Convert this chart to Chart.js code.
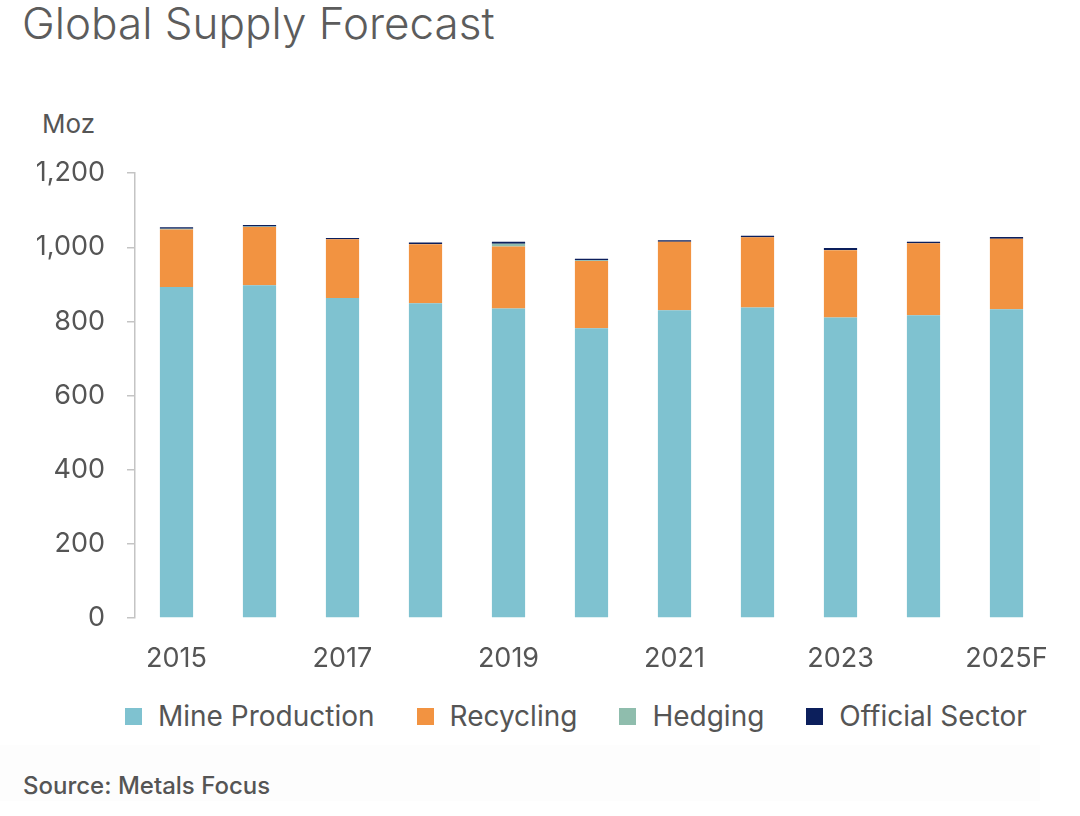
<!DOCTYPE html>
<html>
<head>
<meta charset="utf-8">
<script src="https://cdn.jsdelivr.net/npm/chart.js@4"></script>
<style>
  html, body { margin: 0; padding: 0; background: #fff; }
  body { width: 1080px; height: 816px; position: relative; overflow: hidden; font-family: Inter, "Liberation Sans", sans-serif; color: #555; }
  #title { position: absolute; left: 22px; top: 1px; font-size: 44px; line-height: 1; font-weight: 300; color: #5c5c5c; }
  #unit { position: absolute; left: 42px; top: 111px; font-size: 26px; line-height: 1; color: #555; }
  #wrap { position: absolute; left: 0; top: 135px; width: 1080px; height: 543px; }
  #legend { position: absolute; left: 125px; top: 702px; display: flex; font-size: 28px; line-height: 1; color: #555; }
  #legend .item { display: flex; align-items: center; margin-right: 42px; }
  #legend .box { width: 17px; height: 17px; margin-right: 16px; }
  #srcband { position: absolute; left: 0; top: 745px; width: 1040px; height: 56px; background: #fdfdfd; }
  #source { position: absolute; left: 23px; top: 774px; font-size: 24px; line-height: 1; font-weight: 500; color: #555; }
</style>
</head>
<body>
<div id="title">Global Supply Forecast</div>
<div id="unit">Moz</div>
<div id="wrap"><canvas id="supplyChart"></canvas></div>
<div id="legend"></div>
<div id="srcband"></div>
<div id="source">Source: Metals Focus</div>
<script>
// data (Moz)
const years = ['2015', '2016', '2017', '2018', '2019', '2020', '2021', '2022', '2023', '2024', '2025F'];
const mineProduction = [893, 898, 863, 849, 835, 782, 830, 838, 811, 817, 833];
const recycling = [155, 157, 159, 159, 167, 181, 185, 189, 181, 194, 190];
const hedging = [2, 1, 0, 1, 8, 2, 0, 0, 1, 0, 0];
const officialSector = [4, 4, 3, 4, 5, 4, 4, 4, 5, 4, 5];
const yTicks = [0, 200, 400, 600, 800, 1000, 1200];

const seriesNames = ['Mine Production', 'Recycling', 'Hedging', 'Official Sector'];
const seriesColors = ['#7fc2d0', '#f29341', '#8fbdad', '#0c1f5c'];
const seriesData = [mineProduction, recycling, hedging, officialSector];

const fontFamily = 'Inter, "Liberation Sans", sans-serif';

const ctx = document.getElementById('supplyChart').getContext('2d');
const chart = new Chart(ctx, {
    type: 'bar',
    data: {
        labels: years,
        datasets: seriesNames.map((name, i) => ({
            label: name,
            data: seriesData[i],
            backgroundColor: seriesColors[i],
            borderWidth: 0,
            categoryPercentage: 0.8,
            barPercentage: 0.5
        }))
    },
    options: {
        responsive: true,
        maintainAspectRatio: false,
        animation: false,
        layout: { padding: { top: 20, right: 32, left: 0, bottom: 0 } },
        plugins: {
            legend: { display: false },
            tooltip: { enabled: false }
        },
        scales: {
            x: {
                stacked: true,
                grid: { display: false },
                border: { display: false },
                ticks: {
                    autoSkip: false,
                    maxRotation: 0,
                    padding: 17,
                    color: '#555',
                    font: { family: fontFamily, size: 27 },
                    callback: (v, i) => (i % 2 === 0 ? years[i] : '')
                },
                afterFit: (axis) => { axis.height = 60; }
            },
            y: {
                stacked: true,
                min: yTicks[0],
                max: yTicks[yTicks.length - 1],
                afterBuildTicks: (axis) => { axis.ticks = yTicks.map(v => ({ value: v })); },
                grid: { drawOnChartArea: false, drawTicks: true, tickLength: 8, color: '#c4c4c4', lineWidth: 1.5 },
                border: { display: true, color: '#c4c4c4', width: 1.5 },
                ticks: {
                    padding: 22,
                    color: '#555',
                    font: { family: fontFamily, size: 27 },
                    callback: (v) => v.toLocaleString('en-US')
                },
                afterFit: (axis) => { axis.width = 135; }
            }
        }
    }
});

// legend built from the same series lists
const legendEl = document.getElementById('legend');
seriesNames.forEach((name, i) => {
    const item = document.createElement('div');
    item.className = 'item';
    const box = document.createElement('span');
    box.className = 'box';
    box.style.background = seriesColors[i];
    const txt = document.createElement('span');
    txt.textContent = name;
    item.appendChild(box);
    item.appendChild(txt);
    legendEl.appendChild(item);
});
</script>
</body>
</html>
